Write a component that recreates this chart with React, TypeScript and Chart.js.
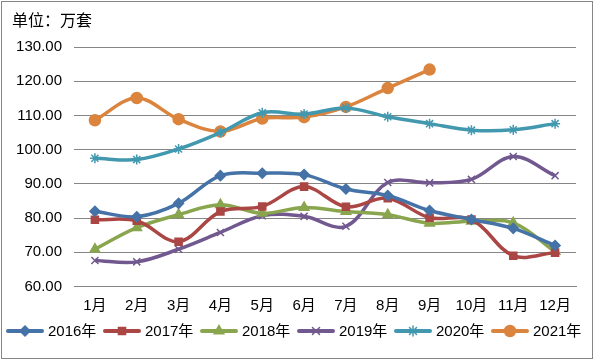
import React, { useEffect, useRef } from "react";
import { Chart, registerables } from "chart.js";
import { drawPoint } from "chart.js/helpers";

Chart.register(...registerables);

const months = ["1月", "2月", "3月", "4月", "5月", "6月", "7月", "8月", "9月", "10月", "11月", "12月"];
const seriesNames = ["2016年", "2017年", "2018年", "2019年", "2020年", "2021年"];
const y2016 = [82.0, 80.4, 84.3, 92.4, 93.1, 92.7, 88.5, 86.6, 82.2, 79.6, 77.0, 72.0];
const y2017 = [79.5, 79.2, 73.1, 81.9, 83.4, 89.2, 83.3, 85.8, 80.1, 79.6, 69.0, 69.9];
const y2018 = [70.9, 77.2, 81.0, 83.9, 81.4, 83.1, 81.9, 81.0, 78.5, 79.1, 78.6, 70.2];
const y2019 = [67.6, 67.2, 70.9, 75.8, 80.7, 80.5, 77.6, 90.4, 90.3, 91.3, 98.0, 92.4];
const y2020 = [97.5, 97.1, 100.2, 105.0, 110.8, 110.4, 112.2, 109.6, 107.6, 105.7, 105.8, 107.6];
const y2021 = [108.6, 115.1, 108.9, 105.3, 109.1, 109.5, 112.5, 118.0, 123.4, null, null, null];
const yMin = 60;
const yMax = 130;
const yStep = 10;
const unitTitle = "单位：万套";

const colors = ["#4572A7", "#AA4643", "#89A54E", "#71588F", "#4198AF", "#DB843D"];
const pointStyles = ["rectRot", "rect", "triangle", "crossRot", "star", "circle"];
const pointRadii = [5, 5, 5.5, 5, 5, 5.5];
const FONT = "'Liberation Sans', 'Noto Sans CJK SC', sans-serif";

const framePlugin = {
  id: "frame",
  beforeDraw(chart: any) {
    const ctx = chart.ctx;
    ctx.save();
    ctx.fillStyle = "#ffffff";
    ctx.fillRect(0, 0, chart.width, chart.height);
    ctx.strokeStyle = "#868686";
    ctx.lineWidth = 1;
    ctx.strokeRect(1.5, 1.5, chart.width - 3, chart.height - 3);
    ctx.fillStyle = "#000";
    ctx.font = "16px 'Noto Sans CJK SC', sans-serif";
    ctx.textBaseline = "middle";
    ctx.textAlign = "left";
    ctx.fillText(unitTitle, 12, 20);
    ctx.restore();
  },
  afterDraw(chart: any) {
    const ctx = chart.ctx;
    ctx.save();
    const y = 331;
    chart.data.datasets.forEach((ds: any, i: number) => {
      const x0 = 8 + i * 97;
      ctx.strokeStyle = ds.borderColor;
      ctx.lineWidth = 4;
      ctx.lineCap = "round";
      ctx.beginPath();
      ctx.moveTo(x0, y);
      ctx.lineTo(x0 + 34, y);
      ctx.stroke();
      ctx.lineWidth = 1.5;
      ctx.fillStyle = ds.pointBackgroundColor;
      ctx.strokeStyle = ds.pointBorderColor;
      drawPoint(ctx, { pointStyle: ds.pointStyle, radius: ds.pointRadius, borderWidth: 1.5, rotation: 0 }, x0 + 17, y);
      ctx.fillStyle = "#000";
      ctx.font = "15px " + FONT;
      ctx.textBaseline = "middle";
      ctx.textAlign = "left";
      ctx.fillText(ds.label, x0 + 40, y + 1);
    });
    ctx.restore();
  },
};

export default function App() {
  const ref = useRef<HTMLCanvasElement>(null);
  useEffect(() => {
    const data = [y2016, y2017, y2018, y2019, y2020, y2021];
    const chart = new Chart(ref.current!, {
      type: "line",
      data: {
        labels: months,
        datasets: data.map((d, i) => ({
          label: seriesNames[i],
          data: d,
          borderColor: colors[i],
          backgroundColor: colors[i],
          pointBackgroundColor: colors[i],
          pointBorderColor: colors[i],
          pointStyle: pointStyles[i],
          pointRadius: pointRadii[i],
          pointBorderWidth: 1.5,
          borderWidth: 3.5,
          tension: 0.35,
          fill: false,
          spanGaps: false,
        })),
      },
      options: {
        responsive: false,
        animation: false,
        layout: { padding: { left: 8, right: 18, top: 47, bottom: 0 } },
        plugins: {
          legend: { display: false },
          tooltip: { enabled: false },
          title: { display: false },
        },
        scales: {
          x: {
            offset: true,
            grid: { display: false, drawTicks: false },
            border: { display: true, color: "#868686", width: 1 },
            ticks: { color: "#000", font: { family: FONT, size: 15 }, padding: 10, maxRotation: 0, autoSkip: false },
            afterFit: (s: any) => { s.height = 73.5; },
          },
          y: {
            min: yMin,
            max: yMax,
            grid: { color: "#868686", lineWidth: 1, drawTicks: false },
            border: { display: false },
            ticks: {
              stepSize: yStep,
              color: "#000",
              font: { family: FONT, size: 15 },
              padding: 12,
              callback: (v: any) => Number(v).toFixed(2),
            },
            afterFit: (s: any) => { s.width = 66; },
          },
        },
      },
      plugins: [framePlugin],
    });
    return () => chart.destroy();
  }, []);
  return (
    <div style={{ position: "fixed", left: 0, top: 0, width: 594, height: 360 }}>
      <canvas ref={ref} width={594} height={360} />
    </div>
  );
}
